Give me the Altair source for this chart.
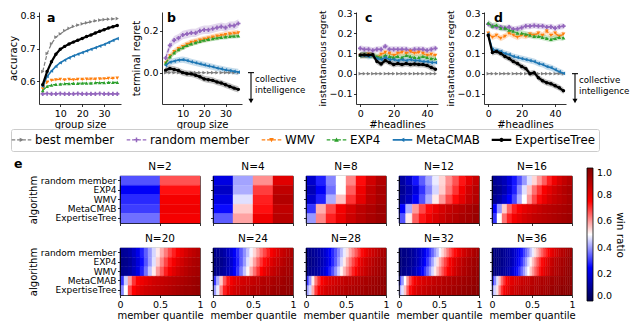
import altair as alt
import pandas as pd

FONT = "DejaVu Sans"

# ---------------- series definitions ----------------
SERIES = ["best member", "random member", "WMV", "EXP4", "MetaCMAB", "ExpertiseTree"]
COLORS = ["#7f7f7f", "#9467bd", "#ff7f0e", "#2ca02c", "#1f77b4", "#000000"]
MARKERS = ["triangle-right", "cross", "triangle-down", "triangle-up", "triangle-left", "circle"]
DASHED = [True, True, True, True, False, False]
LINE_W = [1.2, 1.2, 1.2, 1.2, 1.6, 2.2]
MARK_SIZE = [14, 18, 14, 14, 14, 12]

# ---------------- panel a / b data ----------------
GROUP_SIZE = [2, 4, 6, 8, 10, 12, 14, 16, 18, 20, 22, 24, 26, 28, 30, 32, 34, 36]

ACC_BEST = [0.63, 0.685, 0.715, 0.735, 0.745, 0.755, 0.762, 0.768, 0.772, 0.776, 0.779, 0.782, 0.785, 0.787, 0.789, 0.79, 0.791, 0.792]
ACC_RANDOM = [0.562, 0.563, 0.562, 0.562, 0.563, 0.562, 0.562, 0.562, 0.563, 0.562, 0.562, 0.562, 0.562, 0.563, 0.562, 0.562, 0.562, 0.562]
ACC_WMV = [0.577, 0.598, 0.603, 0.605, 0.606, 0.605, 0.606, 0.605, 0.606, 0.606, 0.607, 0.607, 0.607, 0.608, 0.608, 0.609, 0.609, 0.61]
ACC_EXP4 = [0.572, 0.585, 0.589, 0.591, 0.592, 0.593, 0.593, 0.594, 0.594, 0.595, 0.595, 0.595, 0.596, 0.596, 0.596, 0.597, 0.597, 0.597]
ACC_META = [0.585, 0.615, 0.632, 0.646, 0.657, 0.665, 0.672, 0.678, 0.683, 0.688, 0.693, 0.698, 0.703, 0.708, 0.713, 0.719, 0.725, 0.731]
ACC_TREE = [0.59, 0.63, 0.66, 0.683, 0.698, 0.707, 0.714, 0.72, 0.726, 0.731, 0.737, 0.742, 0.748, 0.753, 0.758, 0.763, 0.767, 0.771]

TREG_BEST = [0.0] * 18
TREG_RANDOM = [0.07, 0.13, 0.155, 0.165, 0.18, 0.185, 0.19, 0.19, 0.2, 0.205, 0.205, 0.21, 0.215, 0.22, 0.215, 0.225, 0.225, 0.235]
TREG_WMV = [0.045, 0.08, 0.1, 0.115, 0.125, 0.135, 0.145, 0.15, 0.155, 0.16, 0.165, 0.17, 0.175, 0.178, 0.182, 0.185, 0.188, 0.19]
TREG_EXP4 = [0.045, 0.075, 0.095, 0.11, 0.12, 0.13, 0.138, 0.144, 0.15, 0.155, 0.159, 0.163, 0.166, 0.169, 0.171, 0.173, 0.175, 0.176]
TREG_META = [0.035, 0.05, 0.055, 0.06, 0.062, 0.058, 0.052, 0.047, 0.042, 0.037, 0.032, 0.028, 0.022, 0.018, 0.013, 0.01, 0.006, 0.003]
TREG_TREE = [0.012, 0.02, 0.015, 0.01, 0.0, -0.005, -0.006, -0.012, -0.02, -0.03, -0.034, -0.037, -0.045, -0.05, -0.058, -0.066, -0.074, -0.08]
TREG_ERR = [0.0, 0.02, 0.015, 0.012, 0.015, 0.015]

# ---------------- panel c / d data ----------------
HEADLINES = [0, 2.5, 5, 7.5, 10, 12.5, 15, 17.5, 20, 22.5, 25, 27.5, 30, 32.5, 35, 37.5, 40, 42.5, 45]

IREG_C_BEST = [0.0] * 19
IREG_C_RANDOM = [0.125, 0.12, 0.12, 0.115, 0.12, 0.12, 0.135, 0.12, 0.12, 0.12, 0.12, 0.12, 0.115, 0.12, 0.12, 0.12, 0.115, 0.12, 0.125]
IREG_C_WMV = [0.09, 0.09, 0.095, 0.09, 0.08, 0.095, 0.105, 0.1, 0.09, 0.1, 0.105, 0.1, 0.11, 0.1, 0.105, 0.1, 0.09, 0.095, 0.09]
IREG_C_EXP4 = [0.09, 0.095, 0.09, 0.09, 0.085, 0.08, 0.09, 0.085, 0.08, 0.085, 0.08, 0.09, 0.085, 0.08, 0.08, 0.085, 0.08, 0.075, 0.075]
IREG_C_META = [0.09, 0.09, 0.085, 0.09, 0.075, 0.07, 0.08, 0.07, 0.07, 0.065, 0.07, 0.065, 0.07, 0.065, 0.065, 0.06, 0.06, 0.055, 0.055]
IREG_C_TREE = [0.092, 0.093, 0.092, 0.094, 0.06, 0.048, 0.065, 0.055, 0.045, 0.05, 0.045, 0.05, 0.045, 0.048, 0.045, 0.045, 0.04, 0.03, 0.022]

IREG_D_BEST = [0.0] * 19
IREG_D_RANDOM = [0.245, 0.235, 0.23, 0.23, 0.225, 0.23, 0.22, 0.222, 0.228, 0.235, 0.235, 0.238, 0.235, 0.235, 0.23, 0.232, 0.225, 0.232, 0.235]
IREG_D_WMV = [0.2, 0.18, 0.19, 0.175, 0.185, 0.2, 0.19, 0.18, 0.19, 0.185, 0.195, 0.19, 0.2, 0.19, 0.21, 0.19, 0.2, 0.185, 0.195]
IREG_D_EXP4 = [0.25, 0.235, 0.24, 0.225, 0.225, 0.215, 0.21, 0.2, 0.2, 0.195, 0.19, 0.185, 0.185, 0.18, 0.175, 0.17, 0.175, 0.18, 0.177]
IREG_D_META = [0.195, 0.12, 0.115, 0.11, 0.1, 0.095, 0.085, 0.08, 0.075, 0.07, 0.065, 0.06, 0.05, 0.045, 0.035, 0.03, 0.02, 0.01, 0.002]
IREG_D_TREE = [0.19, 0.105, 0.11, 0.1, 0.085, 0.075, 0.06, 0.05, 0.035, 0.025, 0.0, 0.005, -0.02, -0.035, -0.045, -0.05, -0.06, -0.07, -0.085]
IREG_ERR = [0.0, 0.015, 0.015, 0.015, 0.015, 0.015]

# ---------------- panel e data (win ratio per member-quantile bin) ----------------
ALGS = ["random member", "EXP4", "WMV", "MetaCMAB", "ExpertiseTree"]
N_ROW1 = [2, 4, 8, 12, 16]
N_ROW2 = [20, 24, 28, 32, 36]
WIN = {
    2: [[0.33, 0.67], [0.24, 0.735], [0.29, 0.77], [0.31, 0.78], [0.36, 0.77]],
    4: [[0.21, 0.41, 0.61, 0.81], [0.17, 0.42, 0.69, 0.875], [0.21, 0.47, 0.72, 0.9],
        [0.26, 0.55, 0.735, 0.875], [0.34, 0.59, 0.78, 0.89]],
    8: [[0.18, 0.28, 0.38, 0.5, 0.62, 0.74, 0.84, 0.9],
        [0.15, 0.24, 0.36, 0.5, 0.66, 0.78, 0.87, 0.92],
        [0.18, 0.28, 0.42, 0.56, 0.7, 0.8, 0.88, 0.92],
        [0.3, 0.58, 0.68, 0.77, 0.83, 0.88, 0.91, 0.94],
        [0.4, 0.62, 0.72, 0.79, 0.85, 0.89, 0.92, 0.94]],
    12: [[0.12, 0.17, 0.27, 0.34, 0.41, 0.48, 0.54, 0.61, 0.67, 0.73, 0.8, 0.86],
         [0.1, 0.14, 0.2, 0.3, 0.38, 0.46, 0.55, 0.63, 0.7, 0.77, 0.84, 0.89],
         [0.12, 0.16, 0.24, 0.33, 0.42, 0.52, 0.6, 0.68, 0.74, 0.8, 0.86, 0.9],
         [0.25, 0.42, 0.6, 0.68, 0.74, 0.79, 0.83, 0.86, 0.88, 0.9, 0.92, 0.94],
         [0.33, 0.52, 0.66, 0.73, 0.78, 0.82, 0.85, 0.88, 0.9, 0.92, 0.93, 0.95]],
    16: [[0.1, 0.12, 0.15, 0.2, 0.27, 0.33, 0.4, 0.47, 0.54, 0.6, 0.66, 0.72, 0.78, 0.83, 0.87, 0.9],
         [0.08, 0.1, 0.14, 0.2, 0.28, 0.38, 0.47, 0.56, 0.64, 0.7, 0.76, 0.8, 0.84, 0.87, 0.9, 0.92],
         [0.1, 0.13, 0.18, 0.25, 0.32, 0.42, 0.5, 0.6, 0.68, 0.74, 0.79, 0.83, 0.86, 0.88, 0.9, 0.92],
         [0.25, 0.4, 0.55, 0.65, 0.72, 0.76, 0.8, 0.82, 0.84, 0.86, 0.88, 0.89, 0.9, 0.91, 0.92, 0.93],
         [0.3, 0.5, 0.64, 0.72, 0.77, 0.8, 0.83, 0.85, 0.87, 0.88, 0.89, 0.9, 0.91, 0.92, 0.93, 0.94]],
    20: [[0.1, 0.11, 0.13, 0.17, 0.22, 0.28, 0.34, 0.4, 0.46, 0.52, 0.58, 0.63, 0.68, 0.72, 0.76, 0.8, 0.83, 0.86, 0.88, 0.9],
         [0.08, 0.09, 0.11, 0.15, 0.2, 0.26, 0.33, 0.4, 0.47, 0.55, 0.62, 0.68, 0.73, 0.77, 0.81, 0.84, 0.87, 0.89, 0.91, 0.92],
         [0.09, 0.1, 0.12, 0.16, 0.21, 0.28, 0.36, 0.44, 0.52, 0.6, 0.66, 0.72, 0.77, 0.81, 0.84, 0.87, 0.89, 0.91, 0.92, 0.93],
         [0.3, 0.45, 0.6, 0.7, 0.75, 0.78, 0.8, 0.82, 0.84, 0.85, 0.86, 0.87, 0.88, 0.89, 0.9, 0.91, 0.92, 0.93, 0.94, 0.95],
         [0.38, 0.5, 0.68, 0.75, 0.79, 0.82, 0.84, 0.85, 0.86, 0.87, 0.88, 0.89, 0.9, 0.91, 0.92, 0.93, 0.94, 0.94, 0.95, 0.96]],
    24: [[0.09, 0.1, 0.11, 0.13, 0.16, 0.2, 0.24, 0.29, 0.34, 0.39, 0.44, 0.49, 0.54, 0.59, 0.64, 0.68, 0.72, 0.76, 0.79, 0.82, 0.85, 0.87, 0.89, 0.91],
         [0.07, 0.08, 0.09, 0.11, 0.14, 0.18, 0.23, 0.28, 0.34, 0.4, 0.47, 0.53, 0.59, 0.65, 0.7, 0.74, 0.78, 0.81, 0.84, 0.86, 0.88, 0.9, 0.92, 0.93],
         [0.08, 0.09, 0.1, 0.12, 0.15, 0.19, 0.24, 0.3, 0.37, 0.44, 0.51, 0.58, 0.64, 0.7, 0.75, 0.79, 0.82, 0.85, 0.87, 0.89, 0.91, 0.92, 0.93, 0.94],
         [0.3, 0.42, 0.55, 0.66, 0.73, 0.77, 0.8, 0.82, 0.83, 0.84, 0.85, 0.86, 0.87, 0.88, 0.89, 0.9, 0.9, 0.91, 0.92, 0.93, 0.93, 0.94, 0.95, 0.96],
         [0.4, 0.48, 0.62, 0.72, 0.78, 0.81, 0.83, 0.85, 0.86, 0.87, 0.88, 0.89, 0.9, 0.9, 0.91, 0.92, 0.92, 0.93, 0.94, 0.94, 0.95, 0.95, 0.96, 0.97]],
    28: [[0.08, 0.09, 0.1, 0.11, 0.13, 0.15, 0.18, 0.21, 0.25, 0.29, 0.33, 0.38, 0.43, 0.48, 0.53, 0.58, 0.62, 0.66, 0.7, 0.74, 0.77, 0.8, 0.83, 0.85, 0.87, 0.89, 0.91, 0.92],
         [0.07, 0.08, 0.09, 0.1, 0.12, 0.14, 0.17, 0.2, 0.24, 0.29, 0.34, 0.4, 0.46, 0.52, 0.58, 0.63, 0.68, 0.72, 0.76, 0.8, 0.83, 0.85, 0.87, 0.89, 0.91, 0.92, 0.93, 0.94],
         [0.08, 0.09, 0.1, 0.11, 0.13, 0.16, 0.19, 0.23, 0.28, 0.33, 0.39, 0.45, 0.51, 0.57, 0.62, 0.67, 0.72, 0.76, 0.8, 0.83, 0.85, 0.87, 0.89, 0.91, 0.92, 0.93, 0.94, 0.95],
         [0.3, 0.4, 0.52, 0.63, 0.7, 0.75, 0.78, 0.8, 0.82, 0.83, 0.84, 0.85, 0.86, 0.87, 0.88, 0.88, 0.89, 0.9, 0.9, 0.91, 0.92, 0.92, 0.93, 0.94, 0.94, 0.95, 0.96, 0.97],
         [0.4, 0.46, 0.58, 0.69, 0.76, 0.8, 0.82, 0.84, 0.85, 0.86, 0.87, 0.88, 0.89, 0.89, 0.9, 0.91, 0.91, 0.92, 0.92, 0.93, 0.93, 0.94, 0.94, 0.95, 0.95, 0.96, 0.96, 0.97]],
    32: [[0.07, 0.08, 0.08, 0.09, 0.1, 0.11, 0.13, 0.15, 0.17, 0.2, 0.23, 0.27, 0.31, 0.35, 0.4, 0.44, 0.49, 0.54, 0.58, 0.63, 0.67, 0.71, 0.74, 0.77, 0.8, 0.83, 0.85, 0.87, 0.89, 0.9, 0.92, 0.93],
         [0.06, 0.07, 0.08, 0.09, 0.1, 0.11, 0.13, 0.15, 0.18, 0.21, 0.25, 0.3, 0.35, 0.41, 0.47, 0.53, 0.58, 0.63, 0.68, 0.72, 0.76, 0.79, 0.82, 0.84, 0.86, 0.88, 0.9, 0.91, 0.92, 0.93, 0.94, 0.95],
         [0.07, 0.08, 0.09, 0.1, 0.11, 0.13, 0.15, 0.18, 0.21, 0.25, 0.3, 0.35, 0.4, 0.46, 0.52, 0.57, 0.62, 0.67, 0.71, 0.75, 0.78, 0.81, 0.84, 0.86, 0.88, 0.9, 0.91, 0.92, 0.93, 0.94, 0.95, 0.96],
         [0.32, 0.4, 0.5, 0.6, 0.68, 0.73, 0.77, 0.79, 0.81, 0.82, 0.83, 0.84, 0.85, 0.86, 0.87, 0.88, 0.88, 0.89, 0.9, 0.9, 0.91, 0.91, 0.92, 0.92, 0.93, 0.93, 0.94, 0.94, 0.95, 0.95, 0.96, 0.97],
         [0.42, 0.47, 0.56, 0.66, 0.74, 0.78, 0.81, 0.83, 0.84, 0.85, 0.86, 0.87, 0.88, 0.89, 0.89, 0.9, 0.9, 0.91, 0.91, 0.92, 0.92, 0.93, 0.93, 0.94, 0.94, 0.95, 0.95, 0.96, 0.96, 0.97, 0.97, 0.98]],
    36: [[0.07, 0.07, 0.08, 0.08, 0.09, 0.1, 0.11, 0.12, 0.14, 0.16, 0.18, 0.21, 0.24, 0.27, 0.31, 0.35, 0.39, 0.44, 0.48, 0.53, 0.57, 0.61, 0.65, 0.69, 0.72, 0.75, 0.78, 0.81, 0.83, 0.85, 0.87, 0.89, 0.9, 0.92, 0.93, 0.94],
         [0.06, 0.06, 0.07, 0.08, 0.09, 0.1, 0.11, 0.12, 0.14, 0.16, 0.19, 0.22, 0.26, 0.3, 0.35, 0.4, 0.46, 0.51, 0.56, 0.61, 0.66, 0.7, 0.74, 0.77, 0.8, 0.83, 0.85, 0.87, 0.89, 0.9, 0.91, 0.92, 0.93, 0.94, 0.95, 0.96],
         [0.07, 0.07, 0.08, 0.09, 0.1, 0.11, 0.12, 0.14, 0.16, 0.19, 0.22, 0.26, 0.3, 0.35, 0.4, 0.45, 0.5, 0.55, 0.6, 0.65, 0.69, 0.73, 0.77, 0.8, 0.83, 0.85, 0.87, 0.89, 0.9, 0.91, 0.92, 0.93, 0.94, 0.95, 0.96, 0.96],
         [0.3, 0.38, 0.47, 0.56, 0.64, 0.7, 0.75, 0.78, 0.8, 0.81, 0.82, 0.83, 0.84, 0.85, 0.86, 0.87, 0.87, 0.88, 0.89, 0.89, 0.9, 0.9, 0.91, 0.91, 0.92, 0.92, 0.93, 0.93, 0.94, 0.94, 0.95, 0.95, 0.96, 0.96, 0.97, 0.97],
         [0.42, 0.46, 0.53, 0.62, 0.7, 0.76, 0.79, 0.81, 0.83, 0.84, 0.85, 0.86, 0.87, 0.88, 0.88, 0.89, 0.89, 0.9, 0.9, 0.91, 0.91, 0.92, 0.92, 0.93, 0.93, 0.94, 0.94, 0.95, 0.95, 0.96, 0.96, 0.97, 0.97, 0.97, 0.98, 0.98]],
}
for n, rows in WIN.items():
    for r in rows:
        assert len(r) == n, (n, len(r))

# ---------------- styling helpers ----------------
SEIS_STOPS = [0, 0.25, 0.5, 0.75, 1]
SEIS_RGB = [(0, 0, 76), (0, 0, 255), (255, 255, 255), (255, 0, 0), (128, 0, 0)]
SEIS = alt.Scale(domain=SEIS_STOPS, range=["#%02x%02x%02x" % c for c in SEIS_RGB], interpolate="rgb")


def seis_hex(v):
    # same piecewise-linear rgb ramp as SEIS (used for the hairline cell outline only)
    for i in range(4):
        a, b = SEIS_STOPS[i], SEIS_STOPS[i + 1]
        if v <= b or i == 3:
            t = min(max((v - a) / (b - a), 0), 1)
            c0, c1 = SEIS_RGB[i], SEIS_RGB[i + 1]
            return "#%02x%02x%02x" % tuple(round(p + (q - p) * t) for p, q in zip(c0, c1))


def rect_path(x0, x1, t):
    return f"M{x0},{-t}L{x1},{-t}L{x1},{t}L{x0},{t}Z"


MARKER_PATHS = {
    "triangle-right": "M-0.3,-0.36L0.42,0L-0.3,0.36Z",
    "cross": "M-0.12,-0.38L0.12,-0.38L0.12,-0.12L0.38,-0.12L0.38,0.12L0.12,0.12L0.12,0.38L-0.12,0.38L-0.12,0.12L-0.38,0.12L-0.38,-0.12L-0.12,-0.12Z",
    "triangle-down": "M-0.38,-0.3L0.38,-0.3L0,0.4Z",
    "triangle-up": "M-0.38,0.3L0,-0.4L0.38,0.3Z",
    "triangle-left": "M0.3,-0.36L0.3,0.36L-0.42,0Z",
    "circle": "M0.36,0A0.36,0.36 0 1,1 -0.36,0A0.36,0.36 0 1,1 0.36,0Z",
}
LEGEND_PATHS = []
for m, dashed, lw in zip(MARKERS, DASHED, LINE_W):
    t = lw / 2 / 6.12
    if dashed:
        line = "".join(rect_path(a, b, t) for a, b in [(-1.6, -1.02), (-0.72, -0.14), (0.14, 0.72), (1.02, 1.6)])
    else:
        line = rect_path(-1.6, 1.6, t)
    LEGEND_PATHS.append(line + MARKER_PATHS[m])

# legend positions are relative to the origin of panel a's plot area
SERIES_LEGEND = alt.Legend(
    orient="none", legendX=-28, legendY=117, direction="horizontal", columns=6,
    symbolSize=150, symbolStrokeWidth=0, symbolOpacity=1, labelFontSize=11.8,
    labelOffset=7, columnPadding=11, padding=4, strokeColor="#cccccc",
    cornerRadius=2, fillColor="white", labelFont=FONT, labelColor="black",
)

CBAR = alt.Legend(
    type="gradient", orient="none", legendX=548, legendY=156, direction="vertical",
    gradientLength=133, gradientThickness=6, values=[0, 0.2, 0.4, 0.6, 0.8, 1.0],
    format=".1f", title="win ratio", titleOrient="right", labelFontSize=9.5,
    titleFontSize=10.5, titleFontWeight="normal", gradientStrokeColor="black",
    gradientStrokeWidth=0.8, labelOverlap=False, labelOffset=4, padding=0,
    titlePadding=3, labelColor="black", titleColor="black",
)


def line_panel(xvals, vals, errs, xdom, xticks, xtitle, ydom, yticks, ytitle,
               w, h, letter, letter_dx, annotate=False, legend=False, ytitle_size=10):
    recs = []
    for s, series_vals, e in zip(SERIES, vals, errs):
        for xv, yv in zip(xvals, series_vals):
            recs.append({"x": xv, "y": yv, "lo": yv - e, "hi": yv + e, "series": s})
    df = pd.DataFrame(recs)
    xs = alt.Scale(domain=xdom, nice=False, zero=False)
    ys = alt.Scale(domain=ydom, nice=False, zero=False)
    xax = alt.Axis(values=xticks, format="d", title=xtitle)
    yax = alt.Axis(values=yticks, format=".1f", title=ytitle, titleFontSize=ytitle_size)
    X = alt.X("x:Q", scale=xs, axis=xax)
    Y = alt.Y("y:Q", scale=ys, axis=yax)
    base = alt.Chart(df)
    layers = []
    for s, c, e in zip(SERIES, COLORS, errs):
        if e > 0:
            layers.append(
                base.transform_filter(alt.datum.series == s)
                .mark_area(color=c, opacity=0.25)
                .encode(x=X, y=alt.Y("lo:Q", scale=ys, axis=yax), y2="hi:Q")
            )
    for s, c, m, dashed, lw, sz in zip(SERIES, COLORS, MARKERS, DASHED, LINE_W, MARK_SIZE):
        sub = base.transform_filter(alt.datum.series == s)
        if dashed:
            ln = sub.mark_line(color=c, strokeWidth=lw, strokeDash=[4, 2])
        else:
            ln = sub.mark_line(color=c, strokeWidth=lw)
        layers.append(ln.encode(x=X, y=Y))
        layers.append(sub.mark_point(shape=m, filled=True, size=sz, color=c, opacity=1).encode(x=X, y=Y))
    lab = pd.DataFrame({"t": [letter]})
    layers.append(
        alt.Chart(lab).mark_text(fontSize=12.5, fontWeight="bold", align="left", baseline="top", color="black")
        .encode(text="t:N", x=alt.value(letter_dx), y=alt.value(0))
    )
    if annotate:
        one = pd.DataFrame({"y": [0.0]})
        ann = alt.Chart(one)
        Y0 = alt.Y("y:Q", scale=ys, axis=yax)
        layers.append(ann.mark_rule(color="black", strokeWidth=1.1).encode(x=alt.value(w + 9), y=Y0, y2=alt.value(h - 4)))
        layers.append(ann.mark_rule(color="black", strokeWidth=1.1).encode(x=alt.value(w + 6), x2=alt.value(w + 12), y=Y0))
        layers.append(ann.mark_point(shape="triangle-down", filled=True, size=26, color="black", opacity=1)
                      .encode(x=alt.value(w + 9), y=alt.value(h - 3)))
        layers.append(ann.mark_text(align="left", baseline="top", fontSize=8.7, lineHeight=11, dy=2, color="black")
                      .encode(x=alt.value(w + 13), y=Y0, text=alt.value(["collective", "intelligence"])))
    if legend:
        ldf = pd.DataFrame({"series": SERIES})
        layers.append(
            alt.Chart(ldf).mark_point(filled=True, opacity=0).encode(
                x=alt.value(0), y=alt.value(0),
                color=alt.Color("series:N", title=None, scale=alt.Scale(domain=SERIES, range=COLORS), legend=SERIES_LEGEND),
                shape=alt.Shape("series:N", title=None, scale=alt.Scale(domain=SERIES, range=LEGEND_PATHS), legend=SERIES_LEGEND),
            )
        )
    return alt.layer(*layers).properties(width=w, height=h)


H_TOP = 92
panel_a = line_panel(GROUP_SIZE, [ACC_BEST, ACC_RANDOM, ACC_WMV, ACC_EXP4, ACC_META, ACC_TREE], [0] * 6,
                     [0.3, 37.7], [10, 20, 30], "group size", [0.531, 0.812], [0.6, 0.7, 0.8], "accuracy",
                     82, H_TOP, "a", 8, legend=True)
panel_b = line_panel(GROUP_SIZE, [TREG_BEST, TREG_RANDOM, TREG_WMV, TREG_EXP4, TREG_META, TREG_TREE], TREG_ERR,
                     [0.3, 37.7], [10, 20, 30], "group size", [-0.15, 0.29], [0.0, 0.2], "terminal regret",
                     80, H_TOP, "b", 5, annotate=True)
panel_c = line_panel(HEADLINES, [IREG_C_BEST, IREG_C_RANDOM, IREG_C_WMV, IREG_C_EXP4, IREG_C_META, IREG_C_TREE], IREG_ERR,
                     [-2.5, 46.5], [0, 20, 40], "#headlines", [-0.15, 0.305], [-0.1, 0.0, 0.1, 0.2, 0.3],
                     "instantaneous regret", 82, H_TOP, "c", 9, ytitle_size=9.2)
panel_d = line_panel(HEADLINES, [IREG_D_BEST, IREG_D_RANDOM, IREG_D_WMV, IREG_D_EXP4, IREG_D_META, IREG_D_TREE], IREG_ERR,
                     [-2.5, 46.5], [0, 20, 40], "#headlines", [-0.15, 0.305], [-0.1, 0.0, 0.1, 0.2, 0.3],
                     "instantaneous regret", 82, H_TOP, "d", 10, annotate=True, ytitle_size=9.2)

top = alt.hconcat(alt.hconcat(panel_a, panel_b, spacing=9), alt.hconcat(panel_c, panel_d, spacing=6), spacing=12)


def heat_panel(n, k):
    recs = []
    for a, row in zip(ALGS, WIN[n]):
        for i, v in enumerate(row):
            recs.append({"alg": a, "q0": i / n, "q1": (i + 1) / n, "win": v, "edge": seis_hex(v)})
    df = pd.DataFrame(recs)
    first = k % 5 == 0
    bottom = k >= 5
    xax = alt.Axis(values=[0, 0.5, 1], format="~g", labels=bottom, title="member quantile" if bottom else None)
    yax = alt.Axis(labels=first, title="algorithm" if first else None, labelFontSize=9)
    rect = alt.Chart(df).mark_rect(strokeWidth=0.4).encode(
        x=alt.X("q0:Q", scale=alt.Scale(domain=[0, 1], nice=False, zero=False), axis=xax),
        x2="q1:Q",
        y=alt.Y("alg:N", sort=ALGS, scale=alt.Scale(paddingInner=0, paddingOuter=0), axis=yax),
        fill=alt.Fill("win:Q", scale=SEIS, legend=CBAR),
        stroke=alt.Stroke("edge:N", scale=None),
    )
    return rect.properties(
        width=80, height=47,
        title=alt.TitleParams(f"N={n}", frame="group"),
        view=alt.ViewBackground(stroke="black", strokeWidth=0.8),
    )


heat_panels = [heat_panel(n, k) for k, n in enumerate(N_ROW1 + N_ROW2)]
heat_grid = alt.concat(*heat_panels, columns=5, spacing={"row": 6, "column": 5})
# zero-size anchor that carries the panel letter "e" and sets the horizontal offset of the heatmap grid
anchor = alt.Chart(pd.DataFrame({"t": ["e"]})).mark_text(
    fontSize=12.5, fontWeight="bold", align="left", baseline="middle", color="black"
).encode(text="t:N", x=alt.value(-25), y=alt.value(-12)).properties(width=1, height=1)
heat = alt.hconcat(anchor, heat_grid, spacing=-12)

chart = (
    alt.vconcat(top, heat, spacing=29)
    .properties(padding=0)
    .configure(font=FONT)
    .configure_view(strokeWidth=0)
    .configure_axis(
        grid=False, domainColor="black", domainWidth=0.8, tickColor="black", tickWidth=0.8,
        tickSize=2.5, labelFontSize=9.5, labelColor="black", titleFontSize=10,
        titleColor="black", titleFontWeight="normal", labelPadding=1.5, titlePadding=1.5,
        labelFont=FONT, titleFont=FONT, labelFlush=False,
    )
    .configure_title(font=FONT, fontSize=10.5, fontWeight="normal", offset=3, color="black")
    .configure_legend(labelFont=FONT, titleFont=FONT)
)

chart.save("out.html", embed_options={"renderer": "svg", "actions": False})
